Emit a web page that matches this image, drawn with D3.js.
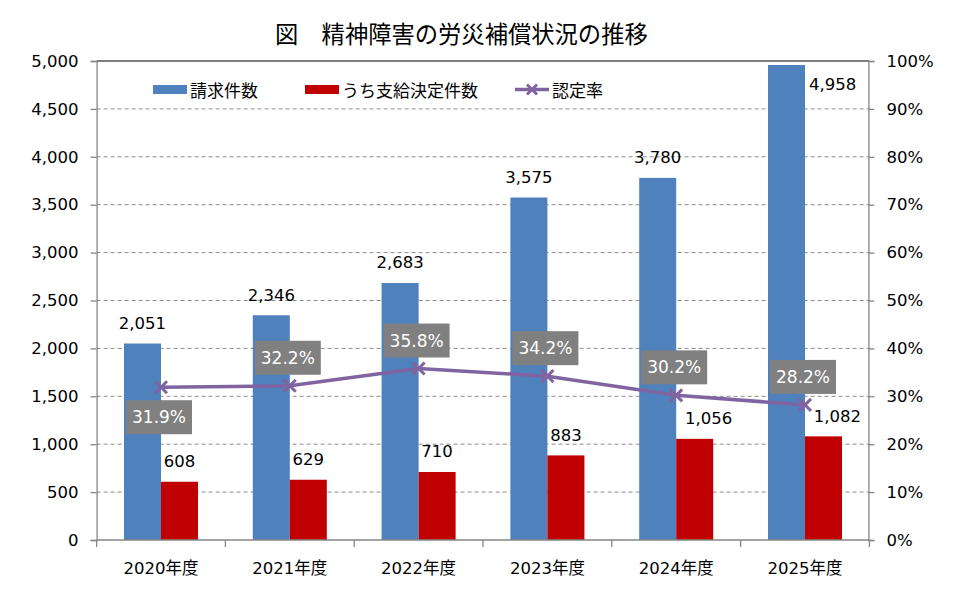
<!DOCTYPE html>
<html>
<head>
<meta charset="utf-8">
<script src="https://cdn.jsdelivr.net/npm/d3@7"></script>
<style>
  body { margin: 0; background: #fff; }
  text { font-family: "DejaVu Sans", "Noto Sans CJK JP", sans-serif; }
</style>
</head>
<body>
<div id="chart"></div>
<script>
// values
var years = ["2020年度", "2021年度", "2022年度", "2023年度", "2024年度", "2025年度"];
var claims = [2051, 2346, 2683, 3575, 3780, 4958];      // 請求件数
var approved = [608, 629, 710, 883, 1056, 1082];        // うち支給決定件数
var rate = [0.319, 0.322, 0.358, 0.342, 0.302, 0.282];   // 認定率
var leftTicks = [0, 500, 1000, 1500, 2000, 2500, 3000, 3500, 4000, 4500, 5000];
var rightTicks = [0, 0.1, 0.2, 0.3, 0.4, 0.5, 0.6, 0.7, 0.8, 0.9, 1.0];

var width = 959, height = 595;
var margin = {top: 61, right: 90, bottom: 55, left: 96.6};

var blue = "#4F81BD", red = "#C00000", purple = "#8064A2", boxGrey = "#808080";
var axisGrey = "#868686";

var svg = d3.select("#chart")
    .append("svg")
    .attr("width", width)
    .attr("height", height);

var x = d3.scaleBand()
    .domain(years)
    .range([margin.left, width - margin.right + 0.4])
    .padding(0);

var xs = d3.scaleBand()
    .domain(["claims", "approved"])
    .range([0, x.bandwidth()])
    .paddingInner(0)
    .paddingOuter(0.74);

var y = d3.scaleLinear().domain([0, 5000]).range([height - margin.bottom, margin.top]);
var y2 = d3.scaleLinear().domain([0, 1]).range([height - margin.bottom, margin.top]);

var x0 = x.range()[0], x1 = x.range()[1];

// title
svg.append("text")
    .attr("x", 275)
    .attr("y", 33)
    .attr("dominant-baseline", "central")
    .style("font-family", "'Noto Sans CJK JP', sans-serif")
    .style("font-size", "23.3px")
    .attr("fill", "#000")
    .text("図　精神障害の労災補償状況の推移");

// gridlines
svg.append("g")
    .selectAll("line")
    .data(leftTicks.filter(function (d) { return d > 0 && d < 5000; }))
    .enter()
    .append("line")
    .attr("x1", x0)
    .attr("x2", x1)
    .attr("y1", function (d) { return y(d); })
    .attr("y2", function (d) { return y(d); })
    .attr("stroke", "#8c8c8c")
    .attr("stroke-width", 1)
    .attr("stroke-dasharray", "4,3");

// top border
svg.append("line")
    .attr("x1", x0).attr("x2", x1)
    .attr("y1", y(5000)).attr("y2", y(5000))
    .attr("stroke", "#000").attr("stroke-width", 1.2);

// bars
var groups = svg.append("g")
    .selectAll("g")
    .data(years)
    .enter()
    .append("g")
    .attr("transform", function (d) { return "translate(" + x(d) + ",0)"; });

groups.append("rect")
    .attr("x", xs("claims"))
    .attr("width", xs.bandwidth())
    .attr("y", function (d, i) { return y(claims[i]); })
    .attr("height", function (d, i) { return y(0) - y(claims[i]); })
    .attr("fill", blue);

groups.append("rect")
    .attr("x", xs("approved"))
    .attr("width", xs.bandwidth())
    .attr("y", function (d, i) { return y(approved[i]); })
    .attr("height", function (d, i) { return y(0) - y(approved[i]); })
    .attr("fill", red);

// axes
var leftAxis = d3.axisLeft(y).tickValues(leftTicks).tickSize(6).tickPadding(12)
    .tickFormat(d3.format(","));
var gl = svg.append("g")
    .attr("transform", "translate(" + x0 + ",0)")
    .call(leftAxis);

var rightAxis = d3.axisRight(y2).tickValues(rightTicks).tickSize(6).tickPadding(12)
    .tickFormat(d3.format(".0%"));
var gr = svg.append("g")
    .attr("transform", "translate(" + (x1 - 1) + ",0)")
    .call(rightAxis);

var bottomAxis = d3.axisBottom(x).tickSize(0).tickPadding(22);
var gb = svg.append("g")
    .attr("transform", "translate(0," + y(0) + ")")
    .call(bottomAxis);

[gl, gr, gb].forEach(function (g) {
    g.select(".domain").attr("stroke", axisGrey).attr("stroke-width", 1.3);
    g.selectAll(".tick line").attr("stroke", axisGrey).attr("stroke-width", 1.3);
    g.selectAll("text").style("font-size", "16.5px").attr("fill", "#000")
        .style("font-family", "'DejaVu Sans', 'Noto Sans CJK JP', sans-serif");
});
gb.select(".domain").attr("d", "M" + x0 + ",0H" + x1);

// category boundary ticks on the x axis
svg.append("g")
    .selectAll("line")
    .data(years.concat(["end"]))
    .enter()
    .append("line")
    .attr("x1", function (d) { return d === "end" ? x1 : x(d); })
    .attr("x2", function (d) { return d === "end" ? x1 : x(d); })
    .attr("y1", y(0))
    .attr("y2", y(0) + 7)
    .attr("stroke", axisGrey)
    .attr("stroke-width", 1.3);

// rate line
var cx = function (d, i) { return x(years[i]) + x.bandwidth() / 2; };
var line = d3.line()
    .x(function (d, i) { return cx(d, i); })
    .y(function (d) { return y2(d); });

svg.append("path")
    .datum(rate)
    .attr("d", line)
    .attr("fill", "none")
    .attr("stroke", purple)
    .attr("stroke-width", 3.5)
    .attr("stroke-linejoin", "round");

var m = 6;
svg.append("g")
    .selectAll("path")
    .data(rate)
    .enter()
    .append("path")
    .attr("d", function (d, i) {
        var px = cx(d, i), py = y2(d);
        return "M" + (px - m) + "," + (py - m) + "L" + (px + m) + "," + (py + m) +
               "M" + (px - m) + "," + (py + m) + "L" + (px + m) + "," + (py - m);
    })
    .attr("stroke", purple)
    .attr("stroke-width", 3);

// value labels
var fmt = d3.format(",");
groups.append("text")
    .attr("x", function (d, i) {
        var top = y(claims[i]) - 20;
        return top < margin.top + 10 ? xs("approved") + 4 : xs("claims") + xs.bandwidth() / 2;
    })
    .attr("y", function (d, i) {
        var top = y(claims[i]) - 20;
        return top < margin.top + 10 ? y(claims[i]) + 19 : top;
    })
    .attr("text-anchor", function (d, i) {
        return y(claims[i]) - 20 < margin.top + 10 ? "start" : "middle";
    })
    .attr("dominant-baseline", "central")
    .style("font-size", "16.5px")
    .text(function (d, i) { return fmt(claims[i]); });

groups.append("text")
    .attr("x", function (d, i) {
        return xs("approved") + xs.bandwidth() / 2 + (approved[i] >= 1000 ? 14 : 0);
    })
    .attr("y", function (d, i) { return y(approved[i]) - 20; })
    .attr("text-anchor", "middle")
    .attr("dominant-baseline", "central")
    .style("font-size", "16.5px")
    .text(function (d, i) { return fmt(approved[i]); });

// rate labels in grey boxes
var pct = d3.format(".1%");
var boxW = 66, boxH = 34;
var rl = svg.append("g")
    .selectAll("g")
    .data(rate)
    .enter()
    .append("g")
    .attr("transform", function (d, i) {
        var px = cx(d, i) - 2, py = y2(d) + (i === 0 ? 30 : -28);
        return "translate(" + px + "," + py + ")";
    });

rl.append("rect")
    .attr("x", -boxW / 2)
    .attr("y", -boxH / 2)
    .attr("width", boxW)
    .attr("height", boxH)
    .attr("fill", boxGrey);

rl.append("text")
    .attr("text-anchor", "middle")
    .attr("dominant-baseline", "central")
    .attr("fill", "#fff")
    .style("font-size", "17px")
    .text(function (d) { return pct(d); });

// legend
var legendItems = [
    {label: "請求件数", type: "bar", color: blue, x: 153},
    {label: "うち支給決定件数", type: "bar", color: red, x: 305},
    {label: "認定率", type: "line", color: purple, x: 515}
];
var ly = 89.5;
var lg = svg.append("g")
    .selectAll("g")
    .data(legendItems)
    .enter()
    .append("g")
    .attr("transform", function (d) { return "translate(" + d.x + "," + ly + ")"; });

lg.filter(function (d) { return d.type === "bar"; })
    .append("rect")
    .attr("x", 0).attr("y", -4.5).attr("width", 34).attr("height", 9)
    .attr("fill", function (d) { return d.color; });

var ll = lg.filter(function (d) { return d.type === "line"; });
ll.append("line")
    .attr("x1", 0).attr("x2", 34).attr("y1", 0).attr("y2", 0)
    .attr("stroke", function (d) { return d.color; })
    .attr("stroke-width", 3.5);
ll.append("path")
    .attr("d", "M12,-5L22,5M12,5L22,-5")
    .attr("stroke", function (d) { return d.color; })
    .attr("stroke-width", 3);

lg.append("text")
    .attr("x", 37)
    .attr("y", 0)
    .attr("dominant-baseline", "central")
    .style("font-family", "'Noto Sans CJK JP', sans-serif")
    .style("font-size", "17px")
    .text(function (d) { return d.label; });
</script>
</body>
</html>
